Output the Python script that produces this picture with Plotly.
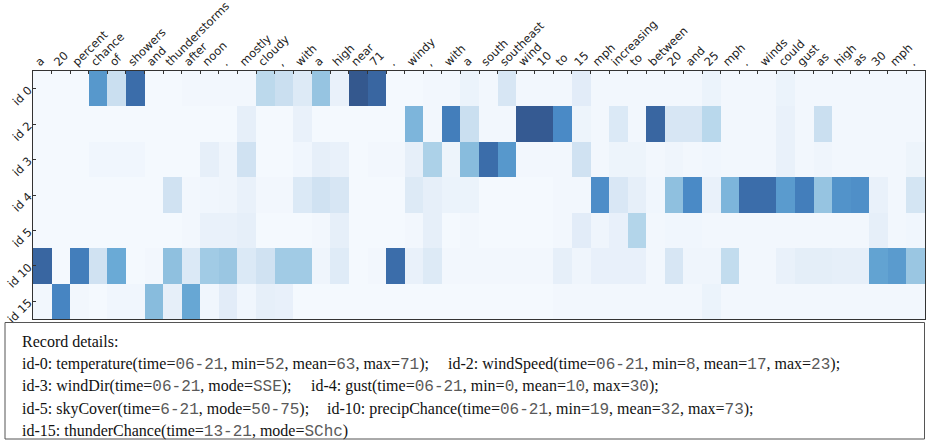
import plotly.graph_objects as go

words = ["a", "20", "percent", "chance", "of", "showers", "and", "thunderstorms", "after", "noon", ".",
         "mostly", "cloudy", ",", "with", "a", "high", "near", "71", ".", "windy", ",", "with", "a",
         "south", "southeast", "wind", "10", "to", "15", "mph", "increasing", "to", "between", "20", "and",
         "25", "mph", ".", "winds", "could", "gust", "as", "high", "as", "30", "mph", "."]

row_labels = ["id 0", "id 2", "id 3", "id 4", "id 5", "id 10", "id 15"]

id0_vals = [0.02, 0.02, 0.02, 0.62, 0.22, 0.82, 0.02, 0.02, 0.03, 0.03, 0.03, 0.03,
            0.27, 0.22, 0.14, 0.38, 0.08, 0.92, 0.85, 0.02, 0.02, 0.03, 0.03, 0.07,
            0.03, 0.17, 0.03, 0.03, 0.03, 0.12, 0.03, 0.03, 0.03, 0.03, 0.03, 0.03,
            0.07, 0.03, 0.03, 0.03, 0.07, 0.03, 0.03, 0.03, 0.03, 0.03, 0.03, 0.03]
id2_vals = [0.02, 0.02, 0.02, 0.02, 0.02, 0.02, 0.02, 0.02, 0.02, 0.02, 0.02, 0.10,
            0.02, 0.02, 0.08, 0.02, 0.02, 0.02, 0.02, 0.02, 0.45, 0.03, 0.75, 0.22,
            0.03, 0.03, 0.90, 0.90, 0.70, 0.06, 0.03, 0.15, 0.03, 0.85, 0.17, 0.17,
            0.28, 0.03, 0.03, 0.03, 0.08, 0.03, 0.22, 0.03, 0.03, 0.03, 0.03, 0.03]
id3_vals = [0.02, 0.02, 0.02, 0.04, 0.04, 0.04, 0.02, 0.02, 0.02, 0.10, 0.05, 0.20,
            0.02, 0.02, 0.04, 0.10, 0.08, 0.02, 0.03, 0.03, 0.10, 0.32, 0.06, 0.42,
            0.82, 0.62, 0.03, 0.03, 0.03, 0.20, 0.03, 0.06, 0.06, 0.03, 0.05, 0.03,
            0.04, 0.03, 0.03, 0.03, 0.08, 0.03, 0.05, 0.03, 0.03, 0.03, 0.03, 0.06]
id4_vals = [0.02, 0.02, 0.02, 0.02, 0.02, 0.02, 0.02, 0.20, 0.03, 0.04, 0.05, 0.08,
            0.03, 0.03, 0.15, 0.20, 0.17, 0.02, 0.02, 0.02, 0.14, 0.10, 0.07, 0.07,
            0.02, 0.02, 0.02, 0.02, 0.03, 0.03, 0.68, 0.16, 0.10, 0.04, 0.40, 0.70,
            0.08, 0.45, 0.82, 0.82, 0.60, 0.75, 0.38, 0.65, 0.67, 0.08, 0.03, 0.18]
id5_vals = [0.02, 0.02, 0.02, 0.02, 0.02, 0.02, 0.02, 0.02, 0.03, 0.08, 0.08, 0.10,
            0.02, 0.02, 0.02, 0.03, 0.10, 0.02, 0.02, 0.02, 0.03, 0.10, 0.02, 0.03,
            0.02, 0.02, 0.02, 0.02, 0.03, 0.12, 0.05, 0.09, 0.30, 0.03, 0.04, 0.04,
            0.03, 0.03, 0.03, 0.03, 0.03, 0.03, 0.03, 0.03, 0.03, 0.10, 0.03, 0.04]
id10_vals = [0.85, 0.02, 0.75, 0.20, 0.50, 0.02, 0.03, 0.40, 0.15, 0.35, 0.37, 0.15,
             0.20, 0.35, 0.35, 0.05, 0.13, 0.02, 0.03, 0.82, 0.08, 0.14, 0.03, 0.03,
             0.03, 0.03, 0.03, 0.03, 0.10, 0.05, 0.09, 0.09, 0.09, 0.03, 0.17, 0.05,
             0.05, 0.25, 0.03, 0.03, 0.08, 0.11, 0.11, 0.10, 0.10, 0.55, 0.60, 0.37]
id15_vals = [0.03, 0.72, 0.03, 0.02, 0.04, 0.04, 0.42, 0.10, 0.52, 0.04, 0.12, 0.04,
             0.10, 0.09, 0.02, 0.02, 0.02, 0.02, 0.02, 0.02, 0.02, 0.02, 0.02, 0.02,
             0.02, 0.02, 0.02, 0.02, 0.03, 0.03, 0.03, 0.03, 0.03, 0.03, 0.03, 0.03,
             0.07, 0.03, 0.03, 0.03, 0.03, 0.03, 0.03, 0.03, 0.03, 0.03, 0.03, 0.03]

# record details: (prefix, [(label, value), ...], closing)
record_details = [
    [("id-0: temperature(", [("time", "06-21"), ("min", "52"), ("mean", "63"), ("max", "71")], ");"),
     ("id-2: windSpeed(", [("time", "06-21"), ("min", "8"), ("mean", "17"), ("max", "23")], ");")],
    [("id-3: windDir(", [("time", "06-21"), ("mode", "SSE")], ");"),
     ("id-4: gust(", [("time", "06-21"), ("min", "0"), ("mean", "10"), ("max", "30")], ");")],
    [("id-5: skyCover(", [("time", "6-21"), ("mode", "50-75")], ");"),
     ("id-10: precipChance(", [("time", "06-21"), ("min", "19"), ("mean", "32"), ("max", "73")], ");")],
    [("id-15: thunderChance(", [("time", "13-21"), ("mode", "SChc")], ")")],
]

W, H = 930, 440
ML, MR, MT, MB = 33, 5, 71, 121
PW, PH = W - ML - MR, H - MT - MB


def px_x(X):
    return (X - ML) / PW


def px_y(Y):
    return (H - MB - Y) / PH


colorscale = [
    [0.0, "#f7fbff"], [0.1, "#e6eff9"], [0.2, "#d0e2f2"], [0.3, "#b3d5ea"],
    [0.4, "#8fc0df"], [0.5, "#6aaad6"], [0.6, "#5a9bce"], [0.7, "#4a8ac6"],
    [0.8, "#3c72b0"], [0.9, "#355a92"], [1.0, "#2f4f80"],
]

z = [id0_vals, id2_vals, id3_vals, id4_vals, id5_vals, id10_vals, id15_vals]

fig = go.Figure(go.Heatmap(
    z=z, x=list(range(len(words))), y=list(range(len(row_labels))),
    colorscale=colorscale, zmin=0, zmax=1, showscale=False, hoverinfo="skip",
))

fig.update_layout(
    width=W, height=H,
    margin=dict(l=ML, r=MR, t=MT, b=MB, autoexpand=False),
    paper_bgcolor="white", plot_bgcolor="white",
    font=dict(family="DejaVu Sans", size=12, color="#222"),
)
fig.update_xaxes(
    side="top", range=[-0.5, len(words) - 0.5], automargin=False,
    tickmode="array", tickvals=[i - 0.5 for i in range(len(words))], ticktext=words,
    tickangle=-45, ticks="inside", ticklen=3, tickcolor="#333",
    ticklabelshift=3, ticklabelstandoff=-3,
    showline=True, linecolor="#333", linewidth=1, mirror=True,
    showgrid=False, zeroline=False,
    tickfont=dict(family="DejaVu Sans", size=11.5, color="#222"),
)
fig.update_yaxes(
    range=[len(row_labels) - 0.5, -0.5], automargin=False,
    tickmode="array", tickvals=list(range(len(row_labels))), ticktext=row_labels,
    tickangle=-45, ticks="inside", ticklen=3, tickcolor="#333",
    ticklabelstandoff=1,
    showline=True, linecolor="#333", linewidth=1, mirror=True,
    showgrid=False, zeroline=False,
    tickfont=dict(family="DejaVu Sans", size=11.5, color="#222"),
)

# details box
fig.add_shape(type="rect", xref="paper", yref="paper",
              x0=px_x(5), x1=px_x(924.5), y0=px_y(439), y1=px_y(322.5),
              line=dict(color="#555", width=1), fillcolor="rgba(0,0,0,0)")


def mono(s):
    return '<span style="font-family:\'Liberation Mono\';color:#5a5a5a">' + s + '</span>'


def record_text(prefix, fields, closing):
    parts = [k + "=" + mono(v) for k, v in fields]
    return prefix + ", ".join(parts) + closing


serif = dict(family="Liberation Serif", size=16, color="#111")
fig.add_annotation(text="Record details:", xref="paper", yref="paper",
                   x=px_x(20), y=px_y(341), xanchor="left", yanchor="middle",
                   showarrow=False, font=serif)

line_y = [364, 386.5, 409, 431.5]
seg_x = [[20, 446], [20, 309], [20, 325], [20]]
for li, line in enumerate(record_details):
    for si, (prefix, fields, closing) in enumerate(line):
        fig.add_annotation(text=record_text(prefix, fields, closing), xref="paper", yref="paper",
                           x=px_x(seg_x[li][si]), y=px_y(line_y[li]), xanchor="left", yanchor="middle",
                           showarrow=False, font=serif)

fig.write_html("out.html")
